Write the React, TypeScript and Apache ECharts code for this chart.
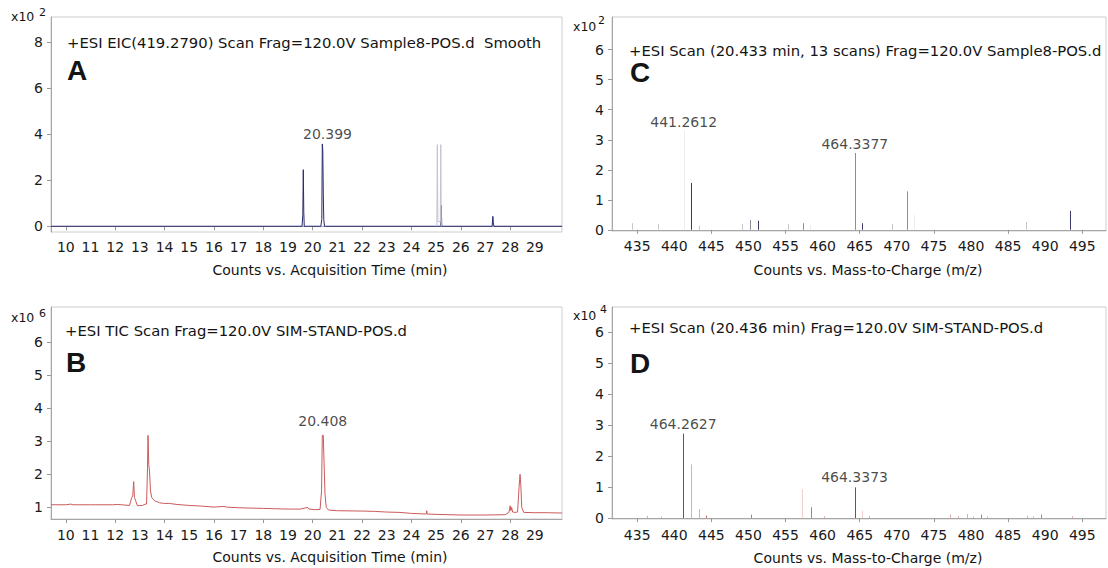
import React, { useEffect, useRef } from 'react';
import * as echarts from 'echarts';

const FONT = '"DejaVu Sans", "Liberation Sans", Arial, sans-serif';
const BOLD_FONT = '"Liberation Sans", Arial, sans-serif';

// ---------- Panel A : EIC (counts x10^2) ----------
const eicTime = [9.4, 19.57, 19.6, 19.62, 19.64, 19.66, 20.33, 20.37, 20.39, 20.41, 20.43, 20.45, 20.48, 25.19, 25.21, 25.23, 27.27, 27.3, 27.32, 27.34, 30.1];
const eicCounts = [0, 0, 0.5, 2.46, 0.6, 0, 0, 0.3, 3.58, 3.3, 1.4, 0.3, 0, 0, 0.9, 0, 0, 0.43, 0.15, 0, 0];
const eicOverlayTime = [25.03, 25.05, 25.07, 25.17, 25.19, 25.21];
const eicOverlayCounts = [0, 3.55, 0.2, 0.2, 3.55, 0];
const eicApex = [[20.399, 3.58, '20.399']];

// ---------- Panel B : TIC (counts x10^6) ----------
const ticTime = [9.4, 10.0, 10.2, 10.3, 11.0, 11.9, 12.1, 12.4, 12.58, 12.67, 12.71, 12.75, 12.78, 12.83, 12.9, 13.1, 13.22, 13.27, 13.31, 13.33, 13.36, 13.39, 13.43, 13.48, 13.6, 13.8, 14.0, 14.2, 14.5, 15.0, 15.5, 16.0, 16.4, 16.5, 17.0, 17.5, 18.0, 18.5, 19.0, 19.5, 19.8, 19.85, 20.1, 20.3, 20.36, 20.39, 20.43, 20.46, 20.5, 20.55, 20.65, 21.0, 22.0, 22.5, 23.0, 23.5, 24.0, 24.6, 24.62, 24.64, 25.0, 26.0, 27.0, 27.8, 27.95, 28.0, 28.03, 28.06, 28.1, 28.2, 28.3, 28.36, 28.4, 28.43, 28.47, 28.55, 29.0, 29.5, 30.1];
const ticCounts = [1.08, 1.08, 1.1, 1.08, 1.08, 1.08, 1.09, 1.07, 1.06, 1.3, 1.35, 1.78, 1.3, 1.2, 1.05, 1.06, 1.1, 1.1, 2.2, 3.18, 2.3, 2.1, 1.5, 1.3, 1.2, 1.14, 1.12, 1.12, 1.09, 1.06, 1.04, 1.01, 1.03, 1.01, 0.99, 0.98, 0.97, 0.96, 0.95, 0.95, 1.0, 0.95, 0.93, 0.94, 1.5, 3.18, 3.18, 2.4, 1.4, 1.0, 0.92, 0.9, 0.89, 0.88, 0.86, 0.85, 0.82, 0.8, 0.9, 0.8, 0.79, 0.77, 0.77, 0.78, 0.85, 1.05, 0.9, 1.0, 0.86, 0.85, 0.86, 1.6, 2.0, 1.7, 1.0, 0.85, 0.84, 0.84, 0.83];
const ticApex = [[20.408, 3.18, '20.408']];

// ---------- Panel C : spectrum (counts x10^2) ----------
const specCDark = [[442.3, 1.56], [451.3, 0.3], [465.3, 0.22], [493.3, 0.63]];
const specCMid = [[464.3377, 2.56], [450.2, 0.33], [471.4, 1.28], [457.3, 0.22]];
const specCLight = [[434.3, 0.22], [437.8, 0.2], [443.3, 0.14], [449.1, 0.2], [455.3, 0.19], [469.4, 0.2], [487.4, 0.26]];
const specCFaint = [[441.2612, 3.3], [458.3, 0.17], [472.3, 0.5]];
const specCLabels = [[441.2612, 3.3, '441.2612'], [464.3377, 2.56, '464.3377']];

// ---------- Panel D : spectrum (counts x10^4) ----------
const specDDark = [[441.2, 2.72], [464.3, 0.99]];
const specDMid = [[458.4, 0.35], [450.3, 0.11], [444.3, 0.08], [489.4, 0.11], [481.3, 0.11]];
const specDLight = [[442.3, 1.73], [443.3, 0.29], [436.3, 0.07], [438.2, 0.05], [460.2, 0.06], [466.3, 0.06], [477.2, 0.11], [478.3, 0.06], [479.4, 0.13], [480.3, 0.05], [482.2, 0.05], [487.5, 0.08], [488.4, 0.05], [493.6, 0.06]];
const specDFaint = [[457.2, 0.93], [465.3, 0.24]];
const specDLabels = [[441.2, 2.72, '464.2627'], [464.3, 0.99, '464.3373']];

// ---------- tick labels ----------
const timeLabels = [10, 11, 12, 13, 14, 15, 16, 17, 18, 19, 20, 21, 22, 23, 24, 25, 26, 27, 28, 29];
const timeTicks = [10, 12, 14, 16, 18, 20, 22, 24, 26, 28];
const eicYLabels = [0, 2, 4, 6, 8];
const ticYLabels = [1, 2, 3, 4, 5, 6];
const mzLabels = [435, 440, 445, 450, 455, 460, 465, 470, 475, 480, 485, 490, 495];
const mzTicks = [435, 445, 455, 465, 475, 485, 495];
const msYLabels = [0, 1, 2, 3, 4, 5, 6];

const zip = (a: number[], b: number[]) => a.map((v, i) => [v, b[i]]);

function xAxisCfg(grid: number, min: number, max: number, labels: number[], ticks: number[], margin: number) {
  return {
    type: 'value', gridIndex: grid, min, max,
    axisLine: { show: true, lineStyle: { color: '#a6a6a6', width: 1 } },
    axisTick: { show: true, customValues: ticks, length: 4, lineStyle: { color: '#999' } },
    axisLabel: { customValues: labels, fontSize: 14, color: '#1a1a1a', fontFamily: FONT, margin },
    splitLine: { show: false },
  };
}
function yAxisCfg(grid: number, min: number, max: number, labels: number[]) {
  return {
    type: 'value', gridIndex: grid, min, max,
    axisLine: { show: true, lineStyle: { color: '#a6a6a6', width: 1 } },
    axisTick: { show: true, customValues: labels, length: 4, lineStyle: { color: '#999' } },
    axisLabel: { customValues: labels, fontSize: 14, color: '#1a1a1a', fontFamily: FONT, margin: 8 },
    splitLine: { show: false },
  };
}

function sticks(data: number[][], color: string, idx: number) {
  return {
    type: 'custom', xAxisIndex: idx, yAxisIndex: idx, data, silent: true,
    encode: { x: 0, y: 1 },
    renderItem: (_p: any, api: any) => {
      const p0 = api.coord([api.value(0), 0]);
      const p1 = api.coord([api.value(0), api.value(1)]);
      const x = Math.round(p0[0]) + 0.5;
      return { type: 'line', shape: { x1: x, y1: p0[1], x2: x, y2: p1[1] }, style: { stroke: color, lineWidth: 1 } };
    },
  };
}

function apexLabels(data: any[], idx: number, distance: number, dx = 0) {
  return {
    type: 'scatter', xAxisIndex: idx, yAxisIndex: idx, data, symbolSize: 0, silent: true,
    label: { show: true, position: 'top', distance, offset: [dx, 0], formatter: (p: any) => p.value[2], fontSize: 14, color: '#1a1a1a', fontFamily: FONT },
  };
}

function txt(x: number, y: number, text: string, size: number, bold = false, align = 'left') {
  return {
    type: 'text', x, y, silent: true,
    style: { text, fontSize: size, fontWeight: bold ? 'bold' : 'normal', fontFamily: bold ? BOLD_FONT : FONT, fill: '#141414', align, verticalAlign: 'middle' },
  };
}

export default function App() {
  const ref = useRef<HTMLDivElement>(null);
  useEffect(() => {
    if (!ref.current) return;
    const chart = echarts.init(ref.current, null, { renderer: 'svg' });
    const gridStyle = { show: true, borderColor: '#cdcdcd', borderWidth: 1, containLabel: false };
    const option: any = {
      animation: false,
      backgroundColor: '#ffffff',
      grid: [
        { ...gridStyle, left: 51, top: 17, width: 511, height: 215 },
        { ...gridStyle, left: 51, top: 307, width: 511, height: 212 },
        { ...gridStyle, left: 612, top: 17, width: 494, height: 214 },
        { ...gridStyle, left: 612, top: 307, width: 494, height: 212 },
      ],
      xAxis: [
        xAxisCfg(0, 9.4, 30.1, timeLabels, timeTicks, 8),
        xAxisCfg(1, 9.4, 30.1, timeLabels, timeTicks, 9),
        xAxisCfg(2, 431.6, 498.2, mzLabels, mzTicks, 8),
        xAxisCfg(3, 431.6, 498.2, mzLabels, mzTicks, 9),
      ],
      yAxis: [
        yAxisCfg(0, -0.25, 9.1, eicYLabels),
        yAxisCfg(1, 0.65, 7.06, ticYLabels),
        yAxisCfg(2, -0.04, 7.09, msYLabels),
        yAxisCfg(3, -0.03, 6.8, msYLabels),
      ],
      series: [
        { type: 'line', xAxisIndex: 0, yAxisIndex: 0, data: zip(eicTime, eicCounts), showSymbol: false, silent: true, lineStyle: { color: '#2a2a6e', width: 1 } },
        { type: 'line', xAxisIndex: 0, yAxisIndex: 0, data: zip(eicOverlayTime, eicOverlayCounts), showSymbol: false, silent: true, lineStyle: { color: '#c4c4cf', width: 1 } },
        apexLabels(eicApex, 0, 3, 5),
        { type: 'line', xAxisIndex: 1, yAxisIndex: 1, data: zip(ticTime, ticCounts), showSymbol: false, silent: true, lineStyle: { color: '#cc5a5a', width: 1 } },
        apexLabels(ticApex, 1, 7),
        sticks(specCFaint, '#ececf1', 2),
        sticks(specCLight, '#c6c6cf', 2),
        sticks(specCMid, '#8c8c9c', 2),
        sticks(specCDark, '#3c3c6a', 2),
        apexLabels(specCLabels, 2, 2),
        sticks(specDFaint, '#f2d0d0', 3),
        sticks(specDLight, '#e2aaaa', 3),
        sticks(specDMid, '#c97272', 3),
        sticks(specDDark, '#a83c3c', 3),
        apexLabels(specDLabels, 3, 3),
      ],
      graphic: [
        txt(11, 16, 'x10', 12.5), txt(39, 12, '2', 11),
        txt(67, 42, '+ESI EIC(419.2790) Scan Frag=120.0V Sample8-POS.d  Smooth', 14.8),
        txt(67, 70, 'A', 28, true),
        txt(573, 26, 'x10', 12.5), txt(598, 20, '2', 11),
        txt(629, 50, '+ESI Scan (20.433 min, 13 scans) Frag=120.0V Sample8-POS.d', 14.8),
        txt(630, 72, 'C', 28, true),
        txt(11, 317, 'x10', 12.5), txt(39, 313, '6', 11),
        txt(65, 330, '+ESI TIC Scan Frag=120.0V SIM-STAND-POS.d', 14.8),
        txt(66, 362, 'B', 28, true),
        txt(573, 315, 'x10', 12.5), txt(600, 309, '4', 11),
        txt(629, 327, '+ESI Scan (20.436 min) Frag=120.0V SIM-STAND-POS.d', 14.8),
        txt(630, 363, 'D', 28, true),
        txt(330, 270, 'Counts vs. Acquisition Time (min)', 14, false, 'center'),
        txt(330, 557, 'Counts vs. Acquisition Time (min)', 14, false, 'center'),
        txt(868, 270, 'Counts vs. Mass-to-Charge (m/z)', 14, false, 'center'),
        txt(868, 558, 'Counts vs. Mass-to-Charge (m/z)', 14, false, 'center'),
      ],
    };
    chart.setOption(option);
    return () => chart.dispose();
  }, []);
  return <div ref={ref} style={{ position: 'absolute', left: 0, top: 0, width: 1108, height: 568 }} />;
}
